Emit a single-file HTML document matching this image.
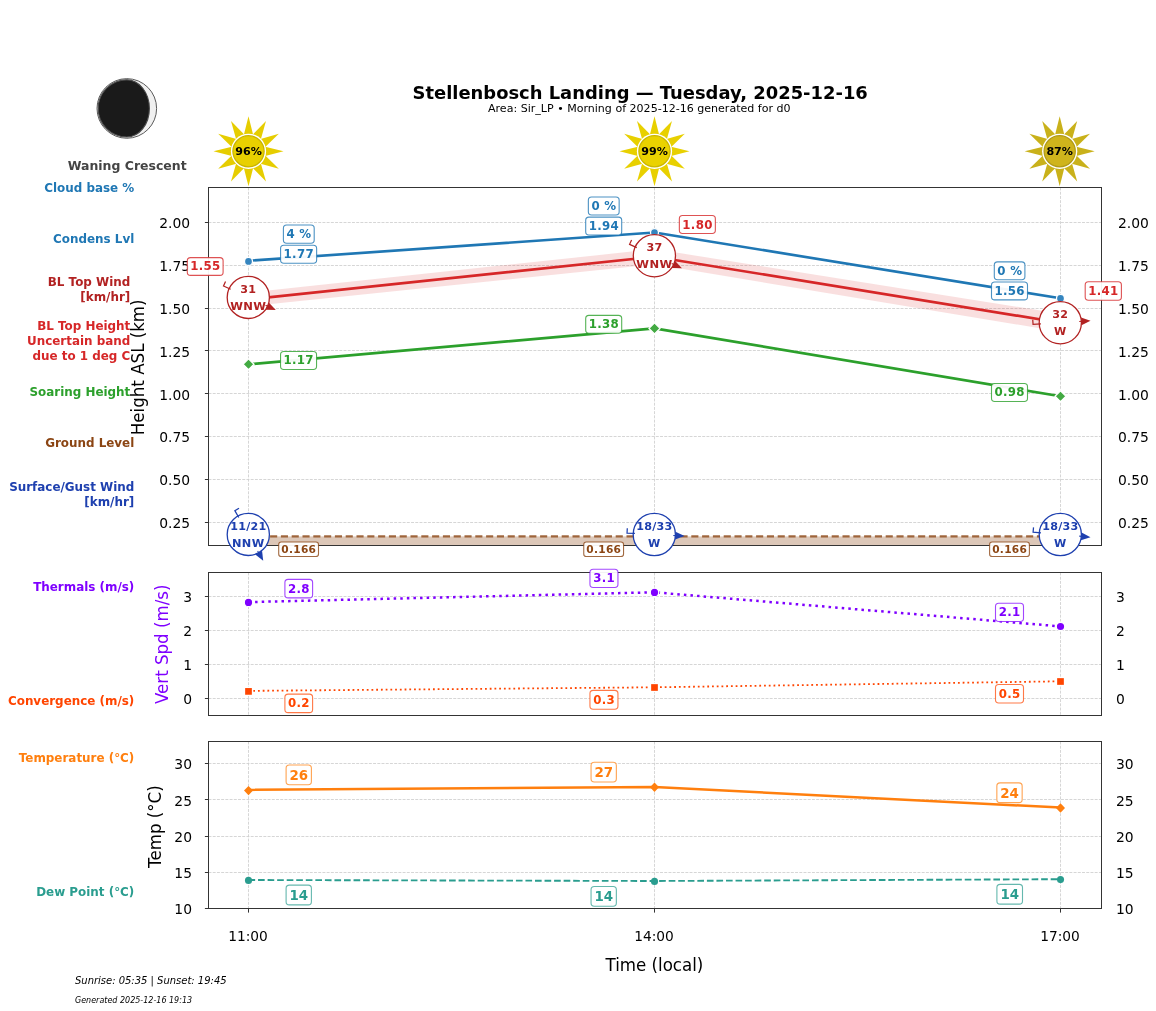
<!DOCTYPE html>
<html lang="en"><head><meta charset="utf-8"><title>Stellenbosch Landing — Tuesday, 2025-12-16</title>
<style>html,body{margin:0;padding:0;background:#fff}svg{display:block;will-change:transform}text{font-family:'DejaVu Sans','Liberation Sans',sans-serif}.g{stroke:#cfcfcf;stroke-width:0.85;stroke-dasharray:2.95 1.27;fill:none}</style></head><body>
<svg width="1156" height="1011" viewBox="0 0 1156 1011">
<rect width="1156" height="1011" fill="#fff"/>
<text x="640.20" y="99.10" font-size="17.92" fill="#000" font-weight="bold" text-anchor="middle" font-style="normal" >Stellenbosch Landing — Tuesday, 2025-12-16</text>
<text x="639.30" y="111.60" font-size="11.05" fill="#000" font-weight="normal" text-anchor="middle" font-style="normal" >Area: Sir_LP • Morning of 2025-12-16 generated for d0</text>
<circle cx="126.8" cy="108.45" r="29.8" fill="#f0f0f0" stroke="#5a5a5a" stroke-width="1"/>
<path d="M126.8,79.85 A28.6,28.6 0 0 0 126.8,137.05 A22.6,28.6 0 0 0 126.8,79.85 Z" fill="#1a1a1a" stroke="#4a4a4a" stroke-width="1.1"/>
<text x="127.20" y="169.80" font-size="12.48" fill="#444" font-weight="bold" text-anchor="middle" font-style="normal" >Waning Crescent</text>
<text x="134.30" y="191.70" font-size="11.93" fill="#1f77b4" font-weight="bold" text-anchor="end" font-style="normal" >Cloud base %</text>
<text x="134.30" y="242.70" font-size="11.93" fill="#1f77b4" font-weight="bold" text-anchor="end" font-style="normal" >Condens Lvl</text>
<text x="130.30" y="285.70" font-size="11.93" fill="#b22222" font-weight="bold" text-anchor="end" font-style="normal" >BL Top Wind</text>
<text x="130.30" y="301.30" font-size="11.93" fill="#b22222" font-weight="bold" text-anchor="end" font-style="normal" >[km/hr]</text>
<text x="130.30" y="329.80" font-size="11.93" fill="#d62728" font-weight="bold" text-anchor="end" font-style="normal" >BL Top Height</text>
<text x="130.30" y="344.70" font-size="11.93" fill="#d62728" font-weight="bold" text-anchor="end" font-style="normal" >Uncertain band</text>
<text x="130.30" y="359.60" font-size="11.93" fill="#d62728" font-weight="bold" text-anchor="end" font-style="normal" >due to 1 deg C</text>
<text x="130.30" y="395.60" font-size="11.93" fill="#2ca02c" font-weight="bold" text-anchor="end" font-style="normal" >Soaring Height</text>
<text x="134.30" y="446.70" font-size="11.93" fill="#8b4513" font-weight="bold" text-anchor="end" font-style="normal" >Ground Level</text>
<text x="134.30" y="490.60" font-size="11.93" fill="#1e40af" font-weight="bold" text-anchor="end" font-style="normal" >Surface/Gust Wind</text>
<text x="134.30" y="505.50" font-size="11.93" fill="#1e40af" font-weight="bold" text-anchor="end" font-style="normal" >[km/hr]</text>
<text x="134.30" y="590.50" font-size="11.93" fill="#7f00ff" font-weight="bold" text-anchor="end" font-style="normal" >Thermals (m/s)</text>
<text x="134.30" y="704.80" font-size="11.93" fill="#ff4500" font-weight="bold" text-anchor="end" font-style="normal" >Convergence (m/s)</text>
<text x="134.30" y="761.80" font-size="11.93" fill="#ff7f0e" font-weight="bold" text-anchor="end" font-style="normal" >Temperature (°C)</text>
<text x="134.30" y="895.70" font-size="11.93" fill="#2a9d8f" font-weight="bold" text-anchor="end" font-style="normal" >Dew Point (°C)</text>
<text transform="translate(143.7,367.3) rotate(-90) scale(1,1.06)" font-size="16.67" text-anchor="middle" fill="#000">Height ASL (km)</text>
<text transform="translate(167.8,644.3) rotate(-90) scale(1,1.06)" font-size="16.67" text-anchor="middle" fill="#7f00ff">Vert Spd (m/s)</text>
<text transform="translate(160.8,826.6) rotate(-90) scale(1,1.06)" font-size="16.67" text-anchor="middle" fill="#000">Temp (°C)</text>
<text transform="translate(654.4,970.6) scale(1,1.06)" font-size="16.67" text-anchor="middle" fill="#000">Time (local)</text>
<line x1="248.5" y1="187.5" x2="248.5" y2="545.5" class="g"/>
<line x1="654.5" y1="187.5" x2="654.5" y2="545.5" class="g"/>
<line x1="1060.5" y1="187.5" x2="1060.5" y2="545.5" class="g"/>
<line x1="208.5" y1="522.50" x2="1101.5" y2="522.50" class="g"/>
<line x1="208.5" y1="479.50" x2="1101.5" y2="479.50" class="g"/>
<line x1="208.5" y1="436.50" x2="1101.5" y2="436.50" class="g"/>
<line x1="208.5" y1="393.50" x2="1101.5" y2="393.50" class="g"/>
<line x1="208.5" y1="350.50" x2="1101.5" y2="350.50" class="g"/>
<line x1="208.5" y1="308.50" x2="1101.5" y2="308.50" class="g"/>
<line x1="208.5" y1="265.50" x2="1101.5" y2="265.50" class="g"/>
<line x1="208.5" y1="222.50" x2="1101.5" y2="222.50" class="g"/>
<rect x="248.5" y="536.41" width="812.0" height="9.09" fill="#8b4513" fill-opacity="0.3"/>
<line x1="248.5" y1="536.41" x2="1060.5" y2="536.41" stroke="#8b4513" stroke-opacity="0.8" stroke-width="2.1" stroke-dasharray="7.1 3.7"/>
<polygon points="248.50,292.70 654.50,249.10 1060.50,313.70 1060.50,331.70 654.50,264.30 248.50,306.30" fill="#d62728" fill-opacity="0.15"/>
<polyline points="248.50,260.80 654.50,232.50 1060.50,298.30" fill="none" stroke="#1f77b4" stroke-width="2.65" stroke-linejoin="round" stroke-linecap="butt"/>
<polyline points="248.50,299.50 654.50,256.70 1060.50,322.70" fill="none" stroke="#d62728" stroke-width="2.65" stroke-linejoin="round" stroke-linecap="butt"/>
<polyline points="248.50,364.30 654.50,328.40 1060.50,396.30" fill="none" stroke="#2ca02c" stroke-width="2.65" stroke-linejoin="round" stroke-linecap="butt"/>
<circle cx="248.50" cy="261.40" r="4.0" fill="#3585bf" stroke="#fff" stroke-width="1.3"/>
<circle cx="654.50" cy="232.60" r="4.0" fill="#3585bf" stroke="#fff" stroke-width="1.3"/>
<circle cx="1060.50" cy="298.40" r="4.0" fill="#3585bf" stroke="#fff" stroke-width="1.3"/>
<path d="M248.50,358.80 L254.00,364.30 L248.50,369.80 L243.00,364.30 Z" fill="#43aa43" stroke="#fff" stroke-width="1.3"/>
<path d="M654.50,322.90 L660.00,328.40 L654.50,333.90 L649.00,328.40 Z" fill="#43aa43" stroke="#fff" stroke-width="1.3"/>
<path d="M1060.50,390.80 L1066.00,396.30 L1060.50,401.80 L1055.00,396.30 Z" fill="#43aa43" stroke="#fff" stroke-width="1.3"/>
<rect x="208.5" y="187.5" width="893.00" height="358.00" fill="none" stroke="#343434" stroke-width="1.0"/>
<line x1="204.9" y1="522.50" x2="208.5" y2="522.50" stroke="#343434" stroke-width="1"/>
<text x="190.20" y="528.00" font-size="13.89" fill="#000" font-weight="normal" text-anchor="end" font-style="normal" >0.25</text>
<text x="1118.00" y="528.00" font-size="13.89" fill="#000" font-weight="normal" text-anchor="start" font-style="normal" >0.25</text>
<line x1="204.9" y1="479.50" x2="208.5" y2="479.50" stroke="#343434" stroke-width="1"/>
<text x="190.20" y="485.00" font-size="13.89" fill="#000" font-weight="normal" text-anchor="end" font-style="normal" >0.50</text>
<text x="1118.00" y="485.00" font-size="13.89" fill="#000" font-weight="normal" text-anchor="start" font-style="normal" >0.50</text>
<line x1="204.9" y1="436.50" x2="208.5" y2="436.50" stroke="#343434" stroke-width="1"/>
<text x="190.20" y="442.00" font-size="13.89" fill="#000" font-weight="normal" text-anchor="end" font-style="normal" >0.75</text>
<text x="1118.00" y="442.00" font-size="13.89" fill="#000" font-weight="normal" text-anchor="start" font-style="normal" >0.75</text>
<line x1="204.9" y1="393.50" x2="208.5" y2="393.50" stroke="#343434" stroke-width="1"/>
<text x="190.20" y="400.00" font-size="13.89" fill="#000" font-weight="normal" text-anchor="end" font-style="normal" >1.00</text>
<text x="1118.00" y="400.00" font-size="13.89" fill="#000" font-weight="normal" text-anchor="start" font-style="normal" >1.00</text>
<line x1="204.9" y1="350.50" x2="208.5" y2="350.50" stroke="#343434" stroke-width="1"/>
<text x="190.20" y="357.00" font-size="13.89" fill="#000" font-weight="normal" text-anchor="end" font-style="normal" >1.25</text>
<text x="1118.00" y="357.00" font-size="13.89" fill="#000" font-weight="normal" text-anchor="start" font-style="normal" >1.25</text>
<line x1="204.9" y1="308.50" x2="208.5" y2="308.50" stroke="#343434" stroke-width="1"/>
<text x="190.20" y="314.00" font-size="13.89" fill="#000" font-weight="normal" text-anchor="end" font-style="normal" >1.50</text>
<text x="1118.00" y="314.00" font-size="13.89" fill="#000" font-weight="normal" text-anchor="start" font-style="normal" >1.50</text>
<line x1="204.9" y1="265.50" x2="208.5" y2="265.50" stroke="#343434" stroke-width="1"/>
<text x="190.20" y="271.00" font-size="13.89" fill="#000" font-weight="normal" text-anchor="end" font-style="normal" >1.75</text>
<text x="1118.00" y="271.00" font-size="13.89" fill="#000" font-weight="normal" text-anchor="start" font-style="normal" >1.75</text>
<line x1="204.9" y1="222.50" x2="208.5" y2="222.50" stroke="#343434" stroke-width="1"/>
<text x="190.20" y="228.00" font-size="13.89" fill="#000" font-weight="normal" text-anchor="end" font-style="normal" >2.00</text>
<text x="1118.00" y="228.00" font-size="13.89" fill="#000" font-weight="normal" text-anchor="start" font-style="normal" >2.00</text>
<rect x="283.40" y="225.00" width="30.80" height="18.20" rx="3.2" ry="3.2" fill="#fff" fill-opacity="0.94" stroke="#1f77b4" stroke-opacity="0.8" stroke-width="1.1"/>
<text x="298.95" y="237.90" font-size="11.8" fill="#1f77b4" font-weight="bold" text-anchor="middle" font-style="normal" letter-spacing="0.3">4 %</text>
<rect x="280.58" y="245.30" width="36.05" height="18.00" rx="3.2" ry="3.2" fill="#fff" fill-opacity="0.94" stroke="#1f77b4" stroke-opacity="0.8" stroke-width="1.1"/>
<text x="298.75" y="257.95" font-size="11.8" fill="#1f77b4" font-weight="bold" text-anchor="middle" font-style="normal" letter-spacing="0.3">1.77</text>
<rect x="187.30" y="257.60" width="35.80" height="17.80" rx="3.2" ry="3.2" fill="#fff" fill-opacity="0.94" stroke="#d62728" stroke-opacity="0.8" stroke-width="1.1"/>
<text x="205.35" y="270.40" font-size="11.8" fill="#d62728" font-weight="bold" text-anchor="middle" font-style="normal" letter-spacing="0.3">1.55</text>
<rect x="280.55" y="351.55" width="36.00" height="17.90" rx="3.2" ry="3.2" fill="#fff" fill-opacity="0.94" stroke="#2ca02c" stroke-opacity="0.8" stroke-width="1.1"/>
<text x="298.70" y="364.40" font-size="11.8" fill="#2ca02c" font-weight="bold" text-anchor="middle" font-style="normal" letter-spacing="0.3">1.17</text>
<rect x="588.35" y="197.00" width="30.80" height="18.00" rx="3.2" ry="3.2" fill="#fff" fill-opacity="0.94" stroke="#1f77b4" stroke-opacity="0.8" stroke-width="1.1"/>
<text x="603.90" y="209.90" font-size="11.8" fill="#1f77b4" font-weight="bold" text-anchor="middle" font-style="normal" letter-spacing="0.3">0 %</text>
<rect x="585.70" y="217.15" width="36.00" height="17.90" rx="3.2" ry="3.2" fill="#fff" fill-opacity="0.94" stroke="#1f77b4" stroke-opacity="0.8" stroke-width="1.1"/>
<text x="603.85" y="230.00" font-size="11.8" fill="#1f77b4" font-weight="bold" text-anchor="middle" font-style="normal" letter-spacing="0.3">1.94</text>
<rect x="679.35" y="215.55" width="36.00" height="17.90" rx="3.2" ry="3.2" fill="#fff" fill-opacity="0.94" stroke="#d62728" stroke-opacity="0.8" stroke-width="1.1"/>
<text x="697.50" y="228.70" font-size="11.8" fill="#d62728" font-weight="bold" text-anchor="middle" font-style="normal" letter-spacing="0.3">1.80</text>
<rect x="585.70" y="315.40" width="36.00" height="17.90" rx="3.2" ry="3.2" fill="#fff" fill-opacity="0.94" stroke="#2ca02c" stroke-opacity="0.8" stroke-width="1.1"/>
<text x="603.85" y="328.25" font-size="11.8" fill="#2ca02c" font-weight="bold" text-anchor="middle" font-style="normal" letter-spacing="0.3">1.38</text>
<rect x="994.30" y="261.85" width="30.60" height="17.90" rx="3.2" ry="3.2" fill="#fff" fill-opacity="0.94" stroke="#1f77b4" stroke-opacity="0.8" stroke-width="1.1"/>
<text x="1009.75" y="274.70" font-size="11.8" fill="#1f77b4" font-weight="bold" text-anchor="middle" font-style="normal" letter-spacing="0.3">0 %</text>
<rect x="991.50" y="281.95" width="36.00" height="17.90" rx="3.2" ry="3.2" fill="#fff" fill-opacity="0.94" stroke="#1f77b4" stroke-opacity="0.8" stroke-width="1.1"/>
<text x="1009.65" y="294.80" font-size="11.8" fill="#1f77b4" font-weight="bold" text-anchor="middle" font-style="normal" letter-spacing="0.3">1.56</text>
<rect x="1085.20" y="281.75" width="36.20" height="18.50" rx="3.2" ry="3.2" fill="#fff" fill-opacity="0.94" stroke="#d62728" stroke-opacity="0.8" stroke-width="1.1"/>
<text x="1103.45" y="295.00" font-size="11.8" fill="#d62728" font-weight="bold" text-anchor="middle" font-style="normal" letter-spacing="0.3">1.41</text>
<rect x="991.50" y="383.55" width="36.00" height="17.90" rx="3.2" ry="3.2" fill="#fff" fill-opacity="0.94" stroke="#2ca02c" stroke-opacity="0.8" stroke-width="1.1"/>
<text x="1009.65" y="396.40" font-size="11.8" fill="#2ca02c" font-weight="bold" text-anchor="middle" font-style="normal" letter-spacing="0.3">0.98</text>
<rect x="278.70" y="542.00" width="39.80" height="14.50" rx="2.6" ry="2.6" fill="#fff" fill-opacity="0.94" stroke="#8b4513" stroke-opacity="0.8" stroke-width="1.1"/>
<text x="298.75" y="552.90" font-size="10.6" fill="#8b4513" font-weight="bold" text-anchor="middle" font-style="normal" letter-spacing="0.3">0.166</text>
<rect x="583.75" y="542.00" width="39.80" height="14.50" rx="2.6" ry="2.6" fill="#fff" fill-opacity="0.94" stroke="#8b4513" stroke-opacity="0.8" stroke-width="1.1"/>
<text x="603.80" y="552.90" font-size="10.6" fill="#8b4513" font-weight="bold" text-anchor="middle" font-style="normal" letter-spacing="0.3">0.166</text>
<rect x="989.60" y="542.00" width="39.80" height="14.50" rx="2.6" ry="2.6" fill="#fff" fill-opacity="0.94" stroke="#8b4513" stroke-opacity="0.8" stroke-width="1.1"/>
<text x="1009.65" y="552.90" font-size="10.6" fill="#8b4513" font-weight="bold" text-anchor="middle" font-style="normal" letter-spacing="0.3">0.166</text>
<circle cx="248.3" cy="297.4" r="21.1" fill="#fff" stroke="#b22222" stroke-width="1.3"/>
<path d="M230.69,289.26 L223.52,285.95 L225.53,281.59" fill="none" stroke="#b22222" stroke-width="1.25" stroke-linejoin="miter"/>
<line x1="265.55" y1="305.37" x2="269.18" y2="307.05" stroke="#b22222" stroke-width="1.1"/>
<path d="M269.00,302.67 L275.81,310.11 L265.73,309.75 Z" fill="#b22222"/>
<text transform="translate(248.30,292.80) scale(1.0,1)" font-size="11.11" fill="#b22222" font-weight="bold" text-anchor="middle" letter-spacing="0.25">31</text>
<text transform="translate(248.30,309.50) scale(1.04,1)" font-size="11.11" fill="#b22222" font-weight="bold" text-anchor="middle" letter-spacing="0.35">WNW</text>
<circle cx="654.4" cy="255.7" r="21.1" fill="#fff" stroke="#b22222" stroke-width="1.3"/>
<path d="M636.76,247.62 L629.58,244.34 L631.58,239.97" fill="none" stroke="#b22222" stroke-width="1.25" stroke-linejoin="miter"/>
<line x1="671.68" y1="263.61" x2="675.31" y2="265.27" stroke="#b22222" stroke-width="1.1"/>
<path d="M675.12,260.90 L681.95,268.31 L671.87,267.99 Z" fill="#b22222"/>
<text transform="translate(654.40,251.10) scale(1.0,1)" font-size="11.11" fill="#b22222" font-weight="bold" text-anchor="middle" letter-spacing="0.25">37</text>
<text transform="translate(654.40,267.80) scale(1.04,1)" font-size="11.11" fill="#b22222" font-weight="bold" text-anchor="middle" letter-spacing="0.35">WNW</text>
<circle cx="1060.3" cy="322.7" r="21.1" fill="#fff" stroke="#b22222" stroke-width="1.3"/>
<path d="M1040.94,323.95 L1033.06,324.46 L1032.75,319.67" fill="none" stroke="#b22222" stroke-width="1.25" stroke-linejoin="miter"/>
<line x1="1079.26" y1="321.47" x2="1083.25" y2="321.22" stroke="#b22222" stroke-width="1.1"/>
<path d="M1081.00,317.45 L1090.54,320.74 L1081.51,325.24 Z" fill="#b22222"/>
<text transform="translate(1060.30,318.10) scale(1.0,1)" font-size="11.11" fill="#b22222" font-weight="bold" text-anchor="middle" letter-spacing="0.25">32</text>
<text transform="translate(1060.30,334.80) scale(1.0,1)" font-size="11.11" fill="#b22222" font-weight="bold" text-anchor="middle" letter-spacing="0.35">W</text>
<circle cx="248.3" cy="534.4" r="21.1" fill="#fff" stroke="#1e40af" stroke-width="1.3"/>
<path d="M238.75,517.52 L234.86,510.64 L239.03,508.28" fill="none" stroke="#1e40af" stroke-width="1.25" stroke-linejoin="miter"/>
<line x1="257.66" y1="550.94" x2="259.63" y2="554.42" stroke="#1e40af" stroke-width="1.1"/>
<path d="M262.04,550.76 L263.22,560.77 L255.25,554.60 Z" fill="#1e40af"/>
<text transform="translate(248.30,529.80) scale(1.0,1)" font-size="11.11" fill="#1e40af" font-weight="bold" text-anchor="middle" letter-spacing="0.25">11/21</text>
<text transform="translate(248.30,546.50) scale(1.02,1)" font-size="11.11" fill="#1e40af" font-weight="bold" text-anchor="middle" letter-spacing="0.35">NNW</text>
<circle cx="654.3" cy="534.5" r="21.1" fill="#fff" stroke="#1e40af" stroke-width="1.3"/>
<path d="M634.93,533.48 L627.04,533.07 L627.29,528.28" fill="none" stroke="#1e40af" stroke-width="1.25" stroke-linejoin="miter"/>
<line x1="673.27" y1="535.49" x2="677.27" y2="535.70" stroke="#1e40af" stroke-width="1.1"/>
<path d="M675.48,531.70 L684.56,536.09 L675.07,539.49 Z" fill="#1e40af"/>
<text transform="translate(654.30,529.90) scale(1.0,1)" font-size="11.11" fill="#1e40af" font-weight="bold" text-anchor="middle" letter-spacing="0.25">18/33</text>
<text transform="translate(654.30,546.60) scale(1.0,1)" font-size="11.11" fill="#1e40af" font-weight="bold" text-anchor="middle" letter-spacing="0.35">W</text>
<circle cx="1060.3" cy="534.5" r="21.1" fill="#fff" stroke="#1e40af" stroke-width="1.3"/>
<path d="M1040.97,532.81 L1033.10,532.12 L1033.52,527.34" fill="none" stroke="#1e40af" stroke-width="1.25" stroke-linejoin="miter"/>
<line x1="1079.23" y1="536.16" x2="1083.21" y2="536.50" stroke="#1e40af" stroke-width="1.1"/>
<path d="M1081.56,532.45 L1090.48,537.14 L1080.88,540.22 Z" fill="#1e40af"/>
<text transform="translate(1060.30,529.90) scale(1.0,1)" font-size="11.11" fill="#1e40af" font-weight="bold" text-anchor="middle" letter-spacing="0.25">18/33</text>
<text transform="translate(1060.30,546.60) scale(1.0,1)" font-size="11.11" fill="#1e40af" font-weight="bold" text-anchor="middle" letter-spacing="0.35">W</text>
<path d="M243.85,134.64 L248.50,116.30 L253.15,134.64 Z" fill="#e6cd00"/>
<path d="M252.80,134.54 L266.00,120.99 L260.86,139.20 Z" fill="#e6cd00"/>
<path d="M260.60,138.94 L278.81,133.80 L265.26,147.00 Z" fill="#e6cd00"/>
<path d="M265.16,146.65 L283.50,151.30 L265.16,155.95 Z" fill="#e6cd00"/>
<path d="M265.26,155.60 L278.81,168.80 L260.60,163.66 Z" fill="#e6cd00"/>
<path d="M260.86,163.40 L266.00,181.61 L252.80,168.06 Z" fill="#e6cd00"/>
<path d="M253.15,167.96 L248.50,186.30 L243.85,167.96 Z" fill="#e6cd00"/>
<path d="M244.20,168.06 L231.00,181.61 L236.14,163.40 Z" fill="#e6cd00"/>
<path d="M236.40,163.66 L218.19,168.80 L231.74,155.60 Z" fill="#e6cd00"/>
<path d="M231.84,155.95 L213.50,151.30 L231.84,146.65 Z" fill="#e6cd00"/>
<path d="M231.74,147.00 L218.19,133.80 L236.40,138.94 Z" fill="#e6cd00"/>
<path d="M236.14,139.20 L231.00,120.99 L244.20,134.54 Z" fill="#e6cd00"/>
<circle cx="248.5" cy="151.3" r="17.6" fill="#fff"/>
<circle cx="248.5" cy="151.3" r="15.6" fill="#e8d000" stroke="#c8b400" stroke-width="1.3"/>
<text x="248.50" y="154.90" font-size="11.11" fill="#000" font-weight="bold" text-anchor="middle" font-style="normal" >96%</text>
<path d="M649.85,134.64 L654.50,116.30 L659.15,134.64 Z" fill="#e8d000"/>
<path d="M658.80,134.54 L672.00,120.99 L666.86,139.20 Z" fill="#e8d000"/>
<path d="M666.60,138.94 L684.81,133.80 L671.26,147.00 Z" fill="#e8d000"/>
<path d="M671.16,146.65 L689.50,151.30 L671.16,155.95 Z" fill="#e8d000"/>
<path d="M671.26,155.60 L684.81,168.80 L666.60,163.66 Z" fill="#e8d000"/>
<path d="M666.86,163.40 L672.00,181.61 L658.80,168.06 Z" fill="#e8d000"/>
<path d="M659.15,167.96 L654.50,186.30 L649.85,167.96 Z" fill="#e8d000"/>
<path d="M650.20,168.06 L637.00,181.61 L642.14,163.40 Z" fill="#e8d000"/>
<path d="M642.40,163.66 L624.19,168.80 L637.74,155.60 Z" fill="#e8d000"/>
<path d="M637.84,155.95 L619.50,151.30 L637.84,146.65 Z" fill="#e8d000"/>
<path d="M637.74,147.00 L624.19,133.80 L642.40,138.94 Z" fill="#e8d000"/>
<path d="M642.14,139.20 L637.00,120.99 L650.20,134.54 Z" fill="#e8d000"/>
<circle cx="654.5" cy="151.3" r="17.6" fill="#fff"/>
<circle cx="654.5" cy="151.3" r="15.6" fill="#ead200" stroke="#cab600" stroke-width="1.3"/>
<text x="654.50" y="154.90" font-size="11.11" fill="#000" font-weight="bold" text-anchor="middle" font-style="normal" >99%</text>
<path d="M1055.05,134.64 L1059.70,116.30 L1064.35,134.64 Z" fill="#c9b11a"/>
<path d="M1064.00,134.54 L1077.20,120.99 L1072.06,139.20 Z" fill="#c9b11a"/>
<path d="M1071.80,138.94 L1090.01,133.80 L1076.46,147.00 Z" fill="#c9b11a"/>
<path d="M1076.36,146.65 L1094.70,151.30 L1076.36,155.95 Z" fill="#c9b11a"/>
<path d="M1076.46,155.60 L1090.01,168.80 L1071.80,163.66 Z" fill="#c9b11a"/>
<path d="M1072.06,163.40 L1077.20,181.61 L1064.00,168.06 Z" fill="#c9b11a"/>
<path d="M1064.35,167.96 L1059.70,186.30 L1055.05,167.96 Z" fill="#c9b11a"/>
<path d="M1055.40,168.06 L1042.20,181.61 L1047.34,163.40 Z" fill="#c9b11a"/>
<path d="M1047.60,163.66 L1029.39,168.80 L1042.94,155.60 Z" fill="#c9b11a"/>
<path d="M1043.04,155.95 L1024.70,151.30 L1043.04,146.65 Z" fill="#c9b11a"/>
<path d="M1042.94,147.00 L1029.39,133.80 L1047.60,138.94 Z" fill="#c9b11a"/>
<path d="M1047.34,139.20 L1042.20,120.99 L1055.40,134.54 Z" fill="#c9b11a"/>
<circle cx="1059.7" cy="151.3" r="17.6" fill="#fff"/>
<circle cx="1059.7" cy="151.3" r="15.6" fill="#cfb41c" stroke="#b09a18" stroke-width="1.3"/>
<text x="1059.70" y="154.90" font-size="11.11" fill="#000" font-weight="bold" text-anchor="middle" font-style="normal" >87%</text>
<line x1="248.5" y1="572.5" x2="248.5" y2="715.5" class="g"/>
<line x1="654.5" y1="572.5" x2="654.5" y2="715.5" class="g"/>
<line x1="1060.5" y1="572.5" x2="1060.5" y2="715.5" class="g"/>
<line x1="208.5" y1="698.50" x2="1101.5" y2="698.50" class="g"/>
<line x1="208.5" y1="664.50" x2="1101.5" y2="664.50" class="g"/>
<line x1="208.5" y1="630.50" x2="1101.5" y2="630.50" class="g"/>
<line x1="208.5" y1="596.50" x2="1101.5" y2="596.50" class="g"/>
<polyline points="248.50,602.10 654.50,592.30 1060.50,626.40" fill="none" stroke="#7f00ff" stroke-width="2.5" stroke-linejoin="round" stroke-linecap="butt" stroke-dasharray="2.5 4.1"/>
<polyline points="248.50,690.90 654.50,687.30 1060.50,681.30" fill="none" stroke="#ff4500" stroke-width="1.8" stroke-linejoin="round" stroke-linecap="butt" stroke-dasharray="1.8 2.93"/>
<circle cx="248.50" cy="602.40" r="4.25" fill="#7f00ff" stroke="#fff" stroke-width="1.3"/>
<circle cx="654.50" cy="592.40" r="4.25" fill="#7f00ff" stroke="#fff" stroke-width="1.3"/>
<circle cx="1060.50" cy="626.50" r="4.25" fill="#7f00ff" stroke="#fff" stroke-width="1.3"/>
<rect x="244.50" y="687.40" width="8.0" height="8.0" fill="#ff4500" stroke="#fff" stroke-width="1.3"/>
<rect x="650.50" y="683.50" width="8.0" height="8.0" fill="#ff4500" stroke="#fff" stroke-width="1.3"/>
<rect x="1056.50" y="677.50" width="8.0" height="8.0" fill="#ff4500" stroke="#fff" stroke-width="1.3"/>
<rect x="208.5" y="572.5" width="893.00" height="143.00" fill="none" stroke="#343434" stroke-width="1.0"/>
<line x1="204.9" y1="698.50" x2="208.5" y2="698.50" stroke="#343434" stroke-width="1"/>
<text x="192.00" y="704.00" font-size="13.89" fill="#000" font-weight="normal" text-anchor="end" font-style="normal" >0</text>
<text x="1116.00" y="704.00" font-size="13.89" fill="#000" font-weight="normal" text-anchor="start" font-style="normal" >0</text>
<line x1="204.9" y1="664.50" x2="208.5" y2="664.50" stroke="#343434" stroke-width="1"/>
<text x="192.00" y="670.00" font-size="13.89" fill="#000" font-weight="normal" text-anchor="end" font-style="normal" >1</text>
<text x="1116.00" y="670.00" font-size="13.89" fill="#000" font-weight="normal" text-anchor="start" font-style="normal" >1</text>
<line x1="204.9" y1="630.50" x2="208.5" y2="630.50" stroke="#343434" stroke-width="1"/>
<text x="192.00" y="636.00" font-size="13.89" fill="#000" font-weight="normal" text-anchor="end" font-style="normal" >2</text>
<text x="1116.00" y="636.00" font-size="13.89" fill="#000" font-weight="normal" text-anchor="start" font-style="normal" >2</text>
<line x1="204.9" y1="596.50" x2="208.5" y2="596.50" stroke="#343434" stroke-width="1"/>
<text x="192.00" y="602.00" font-size="13.89" fill="#000" font-weight="normal" text-anchor="end" font-style="normal" >3</text>
<text x="1116.00" y="602.00" font-size="13.89" fill="#000" font-weight="normal" text-anchor="start" font-style="normal" >3</text>
<rect x="284.90" y="579.35" width="27.70" height="18.50" rx="3.2" ry="3.2" fill="#fff" fill-opacity="0.94" stroke="#7f00ff" stroke-opacity="0.72" stroke-width="1.1"/>
<text x="298.90" y="592.50" font-size="11.8" fill="#7f00ff" font-weight="bold" text-anchor="middle" font-style="normal" letter-spacing="0.3">2.8</text>
<rect x="284.90" y="694.10" width="27.70" height="18.50" rx="3.2" ry="3.2" fill="#fff" fill-opacity="0.94" stroke="#ff4500" stroke-opacity="0.72" stroke-width="1.1"/>
<text x="298.90" y="707.25" font-size="11.8" fill="#ff4500" font-weight="bold" text-anchor="middle" font-style="normal" letter-spacing="0.3">0.2</text>
<rect x="589.95" y="569.30" width="28.00" height="18.20" rx="3.2" ry="3.2" fill="#fff" fill-opacity="0.94" stroke="#7f00ff" stroke-opacity="0.72" stroke-width="1.1"/>
<text x="604.10" y="582.30" font-size="11.8" fill="#7f00ff" font-weight="bold" text-anchor="middle" font-style="normal" letter-spacing="0.3">3.1</text>
<rect x="589.95" y="690.40" width="28.00" height="18.80" rx="3.2" ry="3.2" fill="#fff" fill-opacity="0.94" stroke="#ff4500" stroke-opacity="0.72" stroke-width="1.1"/>
<text x="604.10" y="703.70" font-size="11.8" fill="#ff4500" font-weight="bold" text-anchor="middle" font-style="normal" letter-spacing="0.3">0.3</text>
<rect x="995.50" y="603.30" width="28.00" height="18.20" rx="3.2" ry="3.2" fill="#fff" fill-opacity="0.94" stroke="#7f00ff" stroke-opacity="0.72" stroke-width="1.1"/>
<text x="1009.65" y="616.30" font-size="11.8" fill="#7f00ff" font-weight="bold" text-anchor="middle" font-style="normal" letter-spacing="0.3">2.1</text>
<rect x="995.50" y="684.55" width="28.00" height="18.50" rx="3.2" ry="3.2" fill="#fff" fill-opacity="0.94" stroke="#ff4500" stroke-opacity="0.72" stroke-width="1.1"/>
<text x="1009.65" y="697.70" font-size="11.8" fill="#ff4500" font-weight="bold" text-anchor="middle" font-style="normal" letter-spacing="0.3">0.5</text>
<line x1="248.5" y1="741.5" x2="248.5" y2="908.5" class="g"/>
<line x1="654.5" y1="741.5" x2="654.5" y2="908.5" class="g"/>
<line x1="1060.5" y1="741.5" x2="1060.5" y2="908.5" class="g"/>
<line x1="208.5" y1="872.50" x2="1101.5" y2="872.50" class="g"/>
<line x1="208.5" y1="836.50" x2="1101.5" y2="836.50" class="g"/>
<line x1="208.5" y1="799.50" x2="1101.5" y2="799.50" class="g"/>
<line x1="208.5" y1="763.50" x2="1101.5" y2="763.50" class="g"/>
<polyline points="248.50,789.90 654.50,786.90 1060.50,807.60" fill="none" stroke="#ff7f0e" stroke-width="2.5" stroke-linejoin="round" stroke-linecap="butt"/>
<polyline points="248.50,880.00 654.50,881.00 1060.50,879.20" fill="none" stroke="#2a9d8f" stroke-width="1.85" stroke-linejoin="round" stroke-linecap="butt" stroke-dasharray="6.65 2.9"/>
<path d="M248.50,785.90 L253.00,790.60 L248.50,795.30 L244.00,790.60 Z" fill="#ff7f0e"/>
<path d="M654.50,782.60 L659.00,787.30 L654.50,792.00 L650.00,787.30 Z" fill="#ff7f0e"/>
<path d="M1060.50,803.30 L1065.00,808.00 L1060.50,812.70 L1056.00,808.00 Z" fill="#ff7f0e"/>
<circle cx="248.50" cy="880.40" r="3.55" fill="#2a9d8f"/>
<circle cx="654.50" cy="881.40" r="3.55" fill="#2a9d8f"/>
<circle cx="1060.50" cy="879.60" r="3.55" fill="#2a9d8f"/>
<rect x="208.5" y="741.5" width="893.00" height="167.00" fill="none" stroke="#343434" stroke-width="1.0"/>
<line x1="204.9" y1="908.50" x2="208.5" y2="908.50" stroke="#343434" stroke-width="1"/>
<text x="192.00" y="914.00" font-size="13.89" fill="#000" font-weight="normal" text-anchor="end" font-style="normal" >10</text>
<text x="1116.00" y="914.00" font-size="13.89" fill="#000" font-weight="normal" text-anchor="start" font-style="normal" >10</text>
<line x1="204.9" y1="872.50" x2="208.5" y2="872.50" stroke="#343434" stroke-width="1"/>
<text x="192.00" y="878.00" font-size="13.89" fill="#000" font-weight="normal" text-anchor="end" font-style="normal" >15</text>
<text x="1116.00" y="878.00" font-size="13.89" fill="#000" font-weight="normal" text-anchor="start" font-style="normal" >15</text>
<line x1="204.9" y1="836.50" x2="208.5" y2="836.50" stroke="#343434" stroke-width="1"/>
<text x="192.00" y="842.00" font-size="13.89" fill="#000" font-weight="normal" text-anchor="end" font-style="normal" >20</text>
<text x="1116.00" y="842.00" font-size="13.89" fill="#000" font-weight="normal" text-anchor="start" font-style="normal" >20</text>
<line x1="204.9" y1="799.50" x2="208.5" y2="799.50" stroke="#343434" stroke-width="1"/>
<text x="192.00" y="806.00" font-size="13.89" fill="#000" font-weight="normal" text-anchor="end" font-style="normal" >25</text>
<text x="1116.00" y="806.00" font-size="13.89" fill="#000" font-weight="normal" text-anchor="start" font-style="normal" >25</text>
<line x1="204.9" y1="763.50" x2="208.5" y2="763.50" stroke="#343434" stroke-width="1"/>
<text x="192.00" y="769.00" font-size="13.89" fill="#000" font-weight="normal" text-anchor="end" font-style="normal" >30</text>
<text x="1116.00" y="769.00" font-size="13.89" fill="#000" font-weight="normal" text-anchor="start" font-style="normal" >30</text>
<line x1="248.5" y1="908.5" x2="248.5" y2="912.6" stroke="#343434" stroke-width="1"/>
<text x="248.00" y="940.90" font-size="13.75" fill="#000" font-weight="normal" text-anchor="middle" font-style="normal" >11:00</text>
<line x1="654.5" y1="908.5" x2="654.5" y2="912.6" stroke="#343434" stroke-width="1"/>
<text x="654.00" y="940.90" font-size="13.75" fill="#000" font-weight="normal" text-anchor="middle" font-style="normal" >14:00</text>
<line x1="1060.5" y1="908.5" x2="1060.5" y2="912.6" stroke="#343434" stroke-width="1"/>
<text x="1060.00" y="940.90" font-size="13.75" fill="#000" font-weight="normal" text-anchor="middle" font-style="normal" >17:00</text>
<rect x="286.10" y="765.02" width="25.30" height="19.75" rx="3.2" ry="3.2" fill="#fff" fill-opacity="0.94" stroke="#ff7f0e" stroke-opacity="0.72" stroke-width="1.1"/>
<text x="298.75" y="779.90" font-size="13.4" fill="#ff7f0e" font-weight="bold" text-anchor="middle" font-style="normal" letter-spacing="0">26</text>
<rect x="286.10" y="885.12" width="25.30" height="19.75" rx="3.2" ry="3.2" fill="#fff" fill-opacity="0.94" stroke="#2a9d8f" stroke-opacity="0.72" stroke-width="1.1"/>
<text x="298.75" y="900.00" font-size="13.4" fill="#2a9d8f" font-weight="bold" text-anchor="middle" font-style="normal" letter-spacing="0">14</text>
<rect x="591.05" y="762.23" width="25.30" height="19.75" rx="3.2" ry="3.2" fill="#fff" fill-opacity="0.94" stroke="#ff7f0e" stroke-opacity="0.72" stroke-width="1.1"/>
<text x="603.70" y="777.10" font-size="13.4" fill="#ff7f0e" font-weight="bold" text-anchor="middle" font-style="normal" letter-spacing="0">27</text>
<rect x="591.05" y="886.52" width="25.30" height="19.75" rx="3.2" ry="3.2" fill="#fff" fill-opacity="0.94" stroke="#2a9d8f" stroke-opacity="0.72" stroke-width="1.1"/>
<text x="603.70" y="901.40" font-size="13.4" fill="#2a9d8f" font-weight="bold" text-anchor="middle" font-style="normal" letter-spacing="0">14</text>
<rect x="996.85" y="782.92" width="25.30" height="19.75" rx="3.2" ry="3.2" fill="#fff" fill-opacity="0.94" stroke="#ff7f0e" stroke-opacity="0.72" stroke-width="1.1"/>
<text x="1009.50" y="797.80" font-size="13.4" fill="#ff7f0e" font-weight="bold" text-anchor="middle" font-style="normal" letter-spacing="0">24</text>
<rect x="996.90" y="884.40" width="25.60" height="19.70" rx="3.2" ry="3.2" fill="#fff" fill-opacity="0.94" stroke="#2a9d8f" stroke-opacity="0.72" stroke-width="1.1"/>
<text x="1009.70" y="898.80" font-size="13.4" fill="#2a9d8f" font-weight="bold" text-anchor="middle" font-style="normal" letter-spacing="0">14</text>
<text x="75.00" y="984.10" font-size="9.97" fill="#000" font-weight="normal" text-anchor="start" font-style="italic" >Sunrise: 05:35 | Sunset: 19:45</text>
<text x="75.00" y="1002.90" font-size="8.0" fill="#000" font-weight="normal" text-anchor="start" font-style="italic" >Generated 2025-12-16 19:13</text>
</svg></body></html>
